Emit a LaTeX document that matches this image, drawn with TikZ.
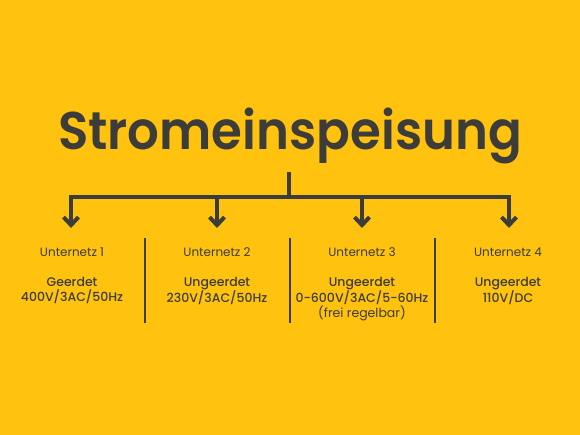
\documentclass[tikz,border=0pt]{standalone}
\usepackage{fontspec}
\setmainfont{Poppins}
\newfontfamily\titlefont{Poppins SemiBold}
\newfontfamily\datafont{Poppins Medium}
\usetikzlibrary{arrows.meta}
\definecolor{bgyellow}{HTML}{FFC20E}
\definecolor{ink}{HTML}{3C3C3B}

\begin{document}
\begin{tikzpicture}[x=1pt,y=-1pt,line join=miter,
		>={Straight Barb[length=8pt,width=15pt]},
		feed/.style={draw=ink,line width=4pt},
		sep/.style={draw=ink,line width=2pt},
		netname/.style={text=ink,font=\fontsize{12}{15}\selectfont,inner sep=0pt},
		netdata/.style={text=ink,font=\datafont\fontsize{12.5}{15}\selectfont,align=center,inner sep=0pt,anchor=north}]
	\fill[bgyellow] (0,0) rectangle (580,435);
	% title and feed lines
	\node[text=ink,font=\titlefont\fontsize{53}{60}\selectfont,inner sep=0pt,anchor=base,xscale=0.94] (title) at (290,150) {Stromeinspeisung};
	\coordinate (stem) at (289,172);
	\coordinate (hub) at (289,197);
	\foreach \i/\x in {1/71,2/217,3/362,4/509}
		\coordinate (tip\i) at (\x,228);
	\draw[feed] (stem) -- (hub);
	\draw[feed,<->] (tip1) -- (tip1|-hub) -- (tip4|-hub) -- (tip4);
	\draw[feed,->] (tip2|-hub) -- (tip2);
	\draw[feed,->] (tip3|-hub) -- (tip3);
	% separators
	\foreach \x in {145,290,435}
		\draw[sep] (\x,238) -- (\x,323);
	% sub networks
	\node[netname] (name1) at (72,252) {Unternetz 1};
	\node[netname] (name2) at (217,252) {Unternetz 2};
	\node[netname] (name3) at (362,252) {Unternetz 3};
	\node[netname] (name4) at (508,252) {Unternetz 4};
	\node[netdata] (data1) at (72,277) {Geerdet\\400V/3AC/50Hz};
	\node[netdata] (data2) at (217,277) {Ungeerdet\\230V/3AC/50Hz};
	\node[netdata] (data3) at (362,277) {Ungeerdet\\0-600V/3AC/5-60Hz\\{\normalfont\fontsize{12.5}{15}\selectfont(frei regelbar)}};
	\node[netdata] (data4) at (508,277) {Ungeerdet\\110V/DC};
\end{tikzpicture}
\end{document}
